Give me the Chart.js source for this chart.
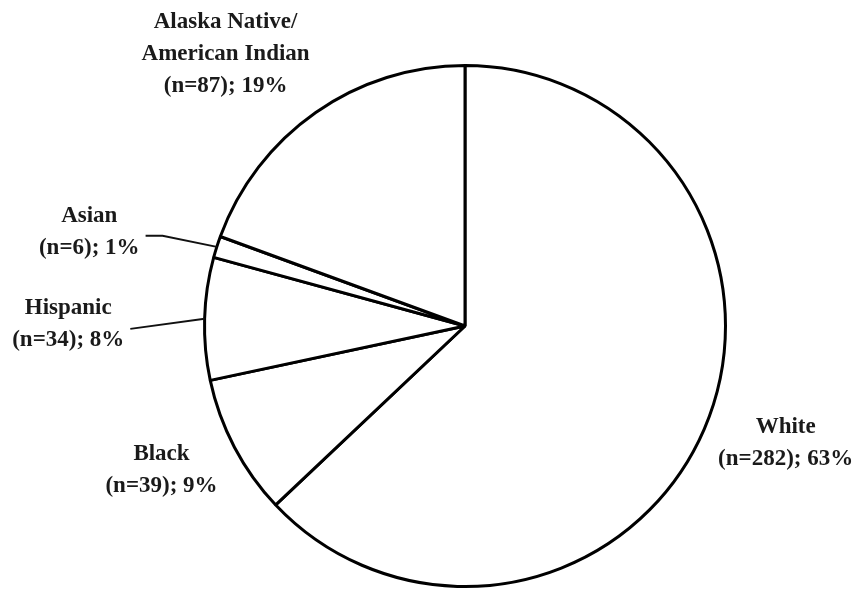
<!DOCTYPE html>
<html>
<head>
<meta charset="utf-8">
<script src="https://cdn.jsdelivr.net/npm/chart.js@4.4.1/dist/chart.umd.min.js"></script>
<style>
  html, body { margin: 0; padding: 0; background: #fff; }
  #wrap { width: 862px; height: 591px; }
</style>
</head>
<body>
<div id="wrap"><canvas id="pie-chart"></canvas></div>
<script>
// groups, clockwise from 12 o'clock
var groups = ["White", "Black", "Hispanic", "Asian", "Alaska Native/American Indian"];
var counts = [282, 39, 34, 6, 87];
var percents = [63, 9, 8, 1, 19];
var labelLines = [
  ["White"],
  ["Black"],
  ["Hispanic"],
  ["Asian"],
  ["Alaska Native/", "American Indian"]
];

// label placement: distance from centre (in radii) and angle nudge (deg)
var labelDist = [1.31, 1.29, 1.523, 1.487, 1.391];
var labelTurn = [-3.3, 2.3, -1.3, -3.6, -6.4];
var leaders = [false, false, true, true, false];

var labelPlugin = {
  id: 'sliceLabels',
  afterDatasetsDraw: function(chart) {
    var ctx = chart.ctx;
    var arcs = chart.getDatasetMeta(0).data;
    ctx.save();
    ctx.font = 'bold 23px "Liberation Serif", "Times New Roman", serif';
    ctx.fillStyle = '#1a1a1a';
    ctx.strokeStyle = '#111';
    ctx.lineWidth = 2;
    ctx.textAlign = 'center';
    ctx.textBaseline = 'middle';
    arcs.forEach(function(arc, i) {
      var p = arc.getProps(['x', 'y', 'startAngle', 'endAngle', 'outerRadius'], true);
      var mid = (p.startAngle + p.endAngle) / 2;
      var a = mid + labelTurn[i] * Math.PI / 180;
      var cx = p.x + Math.cos(a) * p.outerRadius * labelDist[i];
      var cy = p.y + Math.sin(a) * p.outerRadius * labelDist[i];
      var lines = labelLines[i].concat(["(n=" + counts[i] + "); " + percents[i] + "%"]);
      var lh = 32;
      var top = cy - (lines.length - 1) * lh / 2;
      var maxW = 0;
      lines.forEach(function(t, k) {
        ctx.fillText(t, cx, top + k * lh);
        maxW = Math.max(maxW, ctx.measureText(t).width);
      });
      if (leaders[i]) {
        var ex = p.x + Math.cos(mid) * p.outerRadius;
        var ey = p.y + Math.sin(mid) * p.outerRadius;
        var ly = top + (lines.length - 1) * lh - (i === 3 ? 12 : 11);
        var lx = cx + maxW / 2 + 6;
        ctx.beginPath();
        ctx.moveTo(lx, ly);
        if (i === 3) {
          ctx.lineTo(lx + 17, ly);
        }
        ctx.lineTo(ex, ey);
        ctx.stroke();
      }
    });
    ctx.restore();
  }
};

var ctx = document.getElementById("pie-chart").getContext("2d");

var pieChart = new Chart(ctx, {
  type: 'pie',
  data: {
    labels: groups,
    datasets: [{
      data: counts,
      backgroundColor: '#ffffff',
      borderColor: '#000000',
      borderWidth: 3,
      borderAlign: 'center'
    }]
  },
  options: {
    responsive: true,
    maintainAspectRatio: false,
    animation: false,
    events: [],
    layout: {
      padding: { left: 203, right: 135, top: 63, bottom: 2 }
    },
    plugins: {
      legend: { display: false },
      tooltip: { enabled: false },
      title: { display: false }
    }
  },
  plugins: [labelPlugin]
});
</script>
</body>
</html>
